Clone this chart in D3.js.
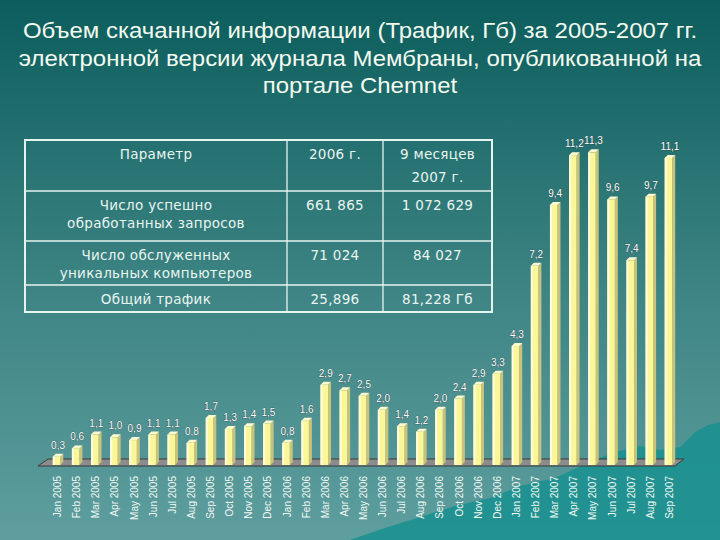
<!DOCTYPE html>
<html>
<head>
<meta charset="utf-8">
<script src="https://cdn.jsdelivr.net/npm/d3@7"></script>
<style>
  body { margin: 0; }
  svg { display: block; }
</style>
</head>
<body>
<div id="chart"></div>
<script>
// monthly traffic, Gb
const months = ["Jan 2005","Feb 2005","Mar 2005","Apr 2005","May 2005","Jun 2005","Jul 2005","Aug 2005","Sep 2005","Oct 2005","Nov 2005","Dec 2005",
  "Jan 2006","Feb 2006","Mar 2006","Apr 2006","May 2006","Jun 2006","Jul 2006","Aug 2006","Sep 2006","Oct 2006","Nov 2006","Dec 2006",
  "Jan 2007","Feb 2007","Mar 2007","Apr 2007","May 2007","Jun 2007","Jul 2007","Aug 2007","Sep 2007"]
const traffic = [0.3,0.6,1.1,1.0,0.9,1.1,1.1,0.8,1.7,1.3,1.4,1.5,
  0.8,1.6,2.9,2.7,2.5,2.0,1.4,1.2,2.0,2.4,2.9,3.3,
  4.3,7.2,9.4,11.2,11.3,9.6,7.4,9.7,11.1]

const titleLines = ["Объем скачанной информации (Трафик, Гб) за 2005-2007 гг.",
  "электронной версии журнала Мембраны, опубликованной на",
  "портале Chemnet"]

const tableHeader = ["Параметр", "2006 г.", "9 месяцев\n2007 г."]
const tableRows = [
  ["Число успешно\nобработанных запросов", "661 865", "1 072 629"],
  ["Число обслуженных\nуникальных компьютеров", "71 024", "84 027"],
  ["Общий трафик", "25,896", "81,228  Гб"]
]

const width = 720, height = 540
const svg = d3.select("#chart").append("svg")
    .attr("width", width)
    .attr("height", height)

// background gradient
var defs = svg.append("defs")
var bg = defs.append("linearGradient").attr("id","bg")
    .attr("x1",0).attr("y1",0).attr("x2",0).attr("y2",1)
bg.append("stop").attr("offset","0%").attr("stop-color","#0c5d5d")
bg.append("stop").attr("offset","55%").attr("stop-color","#3f8585")
bg.append("stop").attr("offset","100%").attr("stop-color","#5e9e9f")
svg.append("rect").attr("width",width).attr("height",height).attr("fill","url(#bg)")

// decorative hills at bottom right
var hill = [[350,540],[385,528],[420,517],[455,506],[490,498],[520,486],[555,478],[590,462],[615,452],[640,446],[660,450],[680,447],[695,432],[708,425],[720,422],[720,540]]
svg.append("path")
    .attr("d", d3.line()(hill) + "Z")
    .attr("fill","#17908f")
    .attr("opacity",0.85)

// title (slightly stretched horizontally like the original slide font)
svg.append("g").selectAll("text")
    .data(titleLines)
    .enter().append("text")
    .attr("transform", function(d,i){ return "translate(" + (width/2) + "," + (38 + i*27.5) + ") scale(1.09,1)" })
    .attr("text-anchor","middle")
    .style("font-family","'Liberation Sans', Arial, sans-serif")
    .style("font-size","22px")
    .attr("fill","#f4fbf0")
    .text(function(d){ return d })

// table
var colX = [25, 287, 383, 492]
var rowY = [140, 191, 241, 285, 312]
var tbl = svg.append("g")
tbl.append("rect").attr("x",colX[0]).attr("y",rowY[0])
    .attr("width",colX[3]-colX[0]).attr("height",rowY[4]-rowY[0])
    .attr("fill","none").attr("stroke","#e6f4ee").attr("stroke-width",2)
rowY.slice(1,4).forEach(function(y){
    tbl.append("line").attr("x1",colX[0]).attr("x2",colX[3]).attr("y1",y).attr("y2",y)
        .attr("stroke","#e6f4ee").attr("stroke-width",1.3)
})
colX.slice(1,3).forEach(function(x){
    tbl.append("line").attr("x1",x).attr("x2",x).attr("y1",rowY[0]).attr("y2",rowY[4])
        .attr("stroke","#e6f4ee").attr("stroke-width",1.3)
})
var allRows = [tableHeader].concat(tableRows)
allRows.forEach(function(row, r){
    var lineGap = r == 0 ? 23 : 18
    row.forEach(function(cell, c){
        var lines = cell.split("\n")
        var cx = (colX[c]+colX[c+1])/2
        var t = tbl.append("text")
            .attr("x",cx)
            .attr("y",rowY[r]+19)
            .attr("text-anchor","middle")
            .style("font-family","'DejaVu Sans', Verdana, sans-serif")
            .style("font-size","13.5px")
            .style("letter-spacing","0.3px")
            .attr("fill","#e9f5ef")
        lines.forEach(function(l, i){
            t.append("tspan").attr("x",cx).attr("dy", i==0 ? 0 : lineGap).text(l)
        })
    })
})

// scales
var x = d3.scaleBand().domain(months).range([48, 680]).paddingInner(0.45).paddingOuter(0.25)
var y = d3.scaleLinear().domain([0, 12]).range([465, 133])
var depth = 3

// floor
var fx0 = x.range()[0], fx1 = x.range()[1]
svg.append("path")
    .attr("d", "M" + (fx0-10) + "," + (y(0)+1) + "L" + (fx0) + "," + (y(0)-6) + "L" + (fx1+4) + "," + (y(0)-6) + "L" + (fx1-5) + "," + (y(0)+1) + "Z")
    .attr("fill","#8c8c8c")
    .attr("stroke","#3a3a3a")
    .attr("stroke-width",1)

// bars (pseudo 3d)
var bw = x.bandwidth() - depth
var bars = svg.append("g").selectAll("g")
    .data(traffic)
    .enter().append("g")
bars.append("path")
    .attr("d", function(d,i){
        var x0 = x(months[i]) + bw, yt = y(d), yb = y(0)
        return "M"+x0+","+yt+"L"+(x0+depth)+","+(yt-depth)+"L"+(x0+depth)+","+(yb-depth)+"L"+x0+","+yb+"Z"
    })
    .attr("fill","#c9c27a")
bars.append("path")
    .attr("d", function(d,i){
        var x0 = x(months[i]), yt = y(d)
        return "M"+x0+","+yt+"L"+(x0+depth)+","+(yt-depth)+"L"+(x0+bw+depth)+","+(yt-depth)+"L"+(x0+bw)+","+yt+"Z"
    })
    .attr("fill","#fffbd0")
bars.append("rect")
    .attr("x", function(d,i){ return x(months[i]) })
    .attr("y", function(d){ return y(d) })
    .attr("width", bw)
    .attr("height", function(d){ return y(0) - y(d) })
    .attr("fill","#fbf799")
bars.append("rect")
    .attr("x", function(d,i){ return x(months[i]) })
    .attr("y", function(d){ return y(d) })
    .attr("width", 2)
    .attr("height", function(d){ return y(0) - y(d) })
    .attr("fill","#fffde0")

// value labels
svg.append("g").selectAll("text")
    .data(traffic)
    .enter().append("text")
    .attr("x", function(d,i){ return x(months[i]) + x.bandwidth()/2 })
    .attr("y", function(d){ return y(d) - 8 })
    .attr("text-anchor","middle")
    .style("font-family","'Liberation Sans', Arial, sans-serif")
    .style("font-size","10px")
    .attr("fill","#ffffff")
    .attr("stroke","#2a4a4a")
    .attr("stroke-width",0.6)
    .attr("paint-order","stroke")
    .text(function(d){ return d3.format(".1f")(d).replace(".", ",") })

// x axis labels, rotated
svg.append("g").selectAll("text")
    .data(months)
    .enter().append("text")
    .attr("transform", function(d){ return "translate(" + (x(d) + x.bandwidth()/2 + 3) + "," + 476 + ") rotate(-90)" })
    .attr("text-anchor","end")
    .style("font-family","'Liberation Sans', Arial, sans-serif")
    .style("font-size","10px")
    .attr("fill","#f2f8f2")
    .text(function(d){ return d })
</script>
</body>
</html>
